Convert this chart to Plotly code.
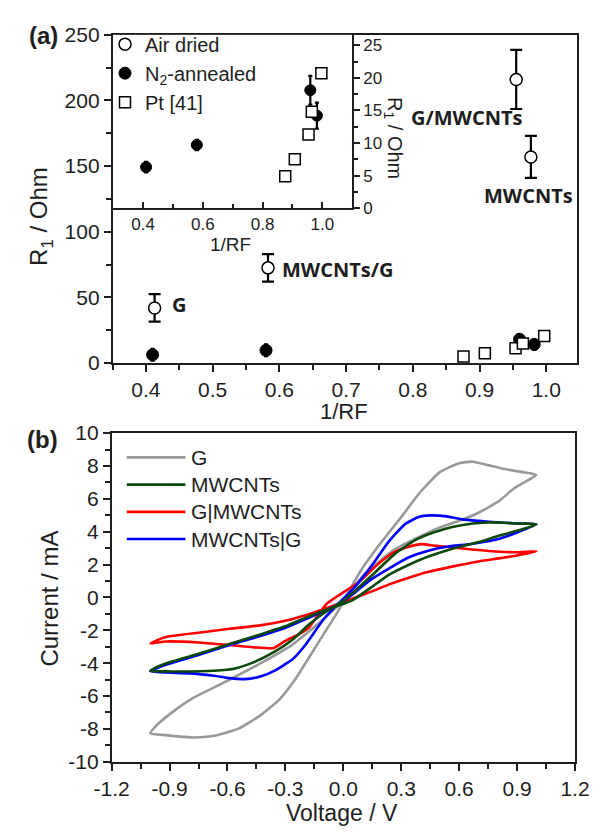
import plotly.graph_objects as go

W, H = 608, 835
def px(x): return x / W
def py(y): return 1 - y / H

# ---------------- Panel (a) data ----------------
air_x = [0.413, 0.583, 0.955, 0.977]
air_y = [42, 72.5, 216, 157]
air_err = [10.5, 10.5, 22.5, 16]
air_labels = ["G", "MWCNTs/G", "G/MWCNTs", "MWCNTs"]
air_label_x = [0.436, 0.601, 0.795, 0.904]
air_label_y = [44.5, 71, 187, 128]

n2_x = [0.41, 0.58, 0.96, 0.982]
n2_y = [6.3, 9.7, 18.1, 14.2]
n2_err_main = [4.5, 4.5, 4.0, 4.0]
n2_err_inset = [0.8, 0.8, 2.2, 2.0]

pt_x = [0.876, 0.908, 0.954, 0.965, 0.997]
pt_y = [4.9, 7.5, 11.3, 14.8, 20.7]

# ---------------- Panel (b) data ----------------
g_v = [-1.0, -0.92, -0.85, -0.77, -0.66, -0.54, -0.43, -0.33, -0.25, -0.18, -0.1, -0.03, 0.03, 0.1, 0.18,
       0.31, 0.4, 0.5, 0.6, 0.67, 0.75, 0.82, 0.9, 0.94, 1.0,
       0.93, 0.88, 0.81, 0.7, 0.6, 0.5, 0.39, 0.26, 0.1, 0.01, -0.1, -0.26, -0.43, -0.59, -0.69, -0.79,
       -0.885, -0.966, -1.0]
g_i = [-8.27, -8.38, -8.47, -8.52, -8.40, -7.97, -7.18, -6.2, -5.0, -3.7, -2.2, -0.9, 0.4, 1.8, 3.1,
       5.05, 6.43, 7.62, 8.17, 8.26, 8.05, 7.85, 7.68, 7.6, 7.45,
       6.95, 6.6, 5.9, 5.15, 4.66, 4.26, 3.67, 2.88, 1.3, -0.05, -1.3, -2.84, -4.02, -5.01, -5.6, -6.2,
       -6.98, -7.77, -8.27]

m_v = [-1.0, -0.92, -0.84, -0.67, -0.56, -0.46, -0.36, -0.26, -0.18, -0.1, 0.0, 0.07, 0.144, 0.27,
       0.37, 0.47, 0.57, 0.67, 0.75, 0.81, 0.9, 1.0,
       0.9, 0.81, 0.7, 0.57, 0.44, 0.34, 0.24, 0.144, 0.046, -0.1, -0.2, -0.3, -0.43, -0.59, -0.75,
       -0.92, -1.0]
m_i = [-4.46, -4.5, -4.51, -4.46, -4.32, -3.92, -3.33, -2.54, -1.66, -0.95, -0.2, 0.5, 1.3, 2.68,
       3.47, 3.96, 4.3, 4.5, 4.56, 4.56, 4.5, 4.45,
       4.05, 3.77, 3.37, 2.98, 2.49, 1.99, 1.4, 0.61, -0.18, -0.8, -1.26, -1.76, -2.25, -2.84, -3.43,
       -4.02, -4.46]

gm_v = [-1.0, -0.92, -0.75, -0.59, -0.46, -0.36, -0.3, -0.23, -0.18, -0.085, 0.078, 0.176, 0.258,
        0.339, 0.405, 0.47, 0.568, 0.666, 0.813, 0.9, 1.0,
        0.9, 0.813, 0.7, 0.568, 0.437, 0.339, 0.241, 0.144, 0.046, -0.1, -0.2, -0.3, -0.43, -0.59,
        -0.75, -0.92, -1.0]
gm_i = [-2.8, -2.68, -2.74, -2.9, -3.04, -3.08, -2.64, -2.25, -1.85, -0.37, 0.91, 1.99, 2.72,
        3.08, 3.24, 3.15, 3.04, 2.92, 2.78, 2.75, 2.8,
        2.55, 2.39, 2.19, 1.89, 1.54, 1.2, 0.81, 0.35, -0.08, -0.7, -1.1, -1.42, -1.7, -1.91,
        -2.15, -2.41, -2.8]

mg_v = [-1.0, -0.92, -0.79, -0.67, -0.59, -0.51, -0.43, -0.35, -0.26, -0.2, -0.1, -0.02, 0.05, 0.144,
        0.24, 0.32, 0.39, 0.45, 0.535, 0.617, 0.7, 0.81, 0.9, 1.0,
        0.9, 0.81, 0.67, 0.535, 0.44, 0.34, 0.24, 0.144, 0.062, -0.02, -0.2, -0.3, -0.43, -0.59,
        -0.75, -0.92, -1.0]
mg_i = [-4.5, -4.57, -4.62, -4.77, -4.91, -4.97, -4.81, -4.42, -3.73, -2.94, -1.3, -0.3, 0.5, 1.89,
        3.47, 4.46, 4.89, 4.99, 4.93, 4.75, 4.66, 4.56, 4.5, 4.45,
        3.95, 3.57, 3.27, 3.08, 2.84, 2.44, 1.79, 1.1, 0.31, -0.4, -1.35, -1.85, -2.35, -2.9,
        -3.5, -4.1, -4.5]

cv_names = ["G", "MWCNTs", "G|MWCNTs", "MWCNTs|G"]
cv_colors = ["#999999", "#0b4a0b", "#ff0000", "#0000ff"]
cv_data = [(g_v, g_i), (m_v, m_i), (gm_v, gm_i), (mg_v, mg_i)]
draw_order = [0, 2, 3, 1]

xb_ticks = [-1.2, -0.9, -0.6, -0.3, 0.0, 0.3, 0.6, 0.9, 1.2]
xb_text = ["-1.2", "-0.9", "-0.6", "-0.3", "0.0", "0.3", "0.6", "0.9", "1.2"]
yb_ticks = [-10, -8, -6, -4, -2, 0, 2, 4, 6, 8, 10]
yb_text = ["-10", "-8", "-6", "-4", "-2", "0", "2", "4", "6", "8", "10"]

TXT = "#1e1e1e"
FONT = "Liberation Sans"

fig = go.Figure()

# main panel (a)
fig.add_trace(go.Scatter(x=air_x, y=air_y, mode="markers", name="Air dried",
                         error_y=dict(type="data", array=air_err, color="black", thickness=2.2, width=6),
                         marker=dict(symbol="circle", size=12, color="white", line=dict(color="black", width=1.5)),
                         xaxis="x", yaxis="y", legendgroup="a1"))
fig.add_trace(go.Scatter(x=n2_x, y=n2_y, mode="markers", name="N<sub>2</sub>-annealed",
                         error_y=dict(type="data", array=n2_err_main, color="black", thickness=2.2, width=2),
                         marker=dict(symbol="circle", size=12, color="black", line=dict(color="black", width=1)),
                         xaxis="x", yaxis="y", legendgroup="a2"))
fig.add_trace(go.Scatter(x=pt_x, y=pt_y, mode="markers", name="Pt [41]",
                         marker=dict(symbol="square", size=11, color="white", line=dict(color="black", width=1.5)),
                         xaxis="x", yaxis="y", legendgroup="a3"))
# inset
fig.add_trace(go.Scatter(x=n2_x, y=n2_y, mode="markers", showlegend=False,
                         error_y=dict(type="data", array=n2_err_inset, color="black", thickness=2.2, width=2),
                         marker=dict(symbol="circle", size=11, color="black", line=dict(color="black", width=1)),
                         xaxis="x2", yaxis="y2"))
fig.add_trace(go.Scatter(x=pt_x, y=pt_y, mode="markers", showlegend=False,
                         marker=dict(symbol="square", size=11, color="white", line=dict(color="black", width=1.5)),
                         xaxis="x2", yaxis="y2"))

# panel (b)
for k in draw_order:
    v, i = cv_data[k]
    fig.add_trace(go.Scatter(x=v, y=i, mode="lines", showlegend=False, name=cv_names[k],
                             line=dict(color=cv_colors[k], width=2.6, shape="spline", smoothing=0.5),
                             xaxis="x3", yaxis="y3"))

axis_common = dict(showline=True, linecolor="#1e1e1e", linewidth=1.5, showgrid=False, zeroline=False,
                   tickcolor="#1e1e1e", tickwidth=1.5, tickfont=dict(family=FONT, size=21, color=TXT))
minor_out = dict(ticks="outside", ticklen=5, tickcolor="#1e1e1e", tickwidth=1.5)

fig.update_layout(
    width=W, height=H, margin=dict(l=0, r=0, t=0, b=0),
    paper_bgcolor="white", plot_bgcolor="white",
    xaxis=dict(axis_common, domain=[px(100), px(591)], anchor="y", range=[0.35, 1.046],
               dtick=0.1, tick0=0, tickformat=".1f", ticks="outside", ticklen=7, mirror=True,
               minor=dict(minor_out, dtick=0.05)),
    yaxis=dict(axis_common, domain=[py(361), py(23.5)], anchor="x", range=[0, 250],
               dtick=50, ticks="outside", ticklen=7, mirror=True,
               minor=dict(minor_out, dtick=25)),
    xaxis2=dict(axis_common, domain=[px(100.7), px(353.3)], anchor="y2", range=[0.3, 1.1],
                dtick=0.2, tick0=0, tickformat=".1f", ticks="inside", ticklen=6,
                tickfont=dict(family=FONT, size=17, color=TXT),
                minor=dict(dtick=0.1, ticks="inside", ticklen=4, tickcolor="#1e1e1e", tickwidth=1.5)),
    yaxis2=dict(axis_common, domain=[py(201.7), py(23.5)], anchor="x2", side="right", range=[0, 26.6],
                dtick=5, ticks="outside", ticklen=6,
                tickfont=dict(family=FONT, size=17, color=TXT),
                minor=dict(minor_out, dtick=2.5, ticklen=4)),
    xaxis3=dict(axis_common, domain=[px(99), px(589)], anchor="y3", range=[-1.2, 1.2],
                tickvals=xb_ticks, ticktext=xb_text, ticks="outside", ticklen=7, mirror=True,
                tickfont=dict(family=FONT, size=21, color=TXT),
                minor=dict(minor_out, dtick=0.15, tick0=0)),
    yaxis3=dict(axis_common, domain=[py(771), py(433)], anchor="x3", range=[-10, 10],
                tickvals=yb_ticks, ticktext=yb_text, ticks="outside", ticklen=7, mirror=True,
                tickfont=dict(family=FONT, size=21, color=TXT),
                minor=dict(minor_out, dtick=1)),
    legend=dict(x=px(92), y=py(13), xanchor="left", yanchor="top", bgcolor="rgba(0,0,0,0)",
                font=dict(family=FONT, size=20, color=TXT), tracegroupgap=0, itemsizing="trace"),
    showlegend=True,
)

ann = []
def add_text(text, x, y, size, bold=False, angle=0, xanchor="center", xref="paper", yref="paper", family=FONT):
    t = "<b>%s</b>" % text if bold else text
    ann.append(dict(text=t, x=x, y=y, xref=xref, yref=yref, showarrow=False, textangle=angle,
                    xanchor=xanchor, yanchor="middle", font=dict(family=family, size=size, color=TXT)))

add_text("(a)", px(27), py(24), 24, bold=True)
add_text("(b)", px(26), py(440), 24, bold=True)
add_text("R<sub>1</sub> / Ohm", px(24), py(210), 24, angle=-90)
add_text("1/RF", px(345), py(411), 22)
add_text("R<sub>1</sub> / Ohm", px(397), py(130), 20, angle=90)
add_text("1/RF", px(225), py(239), 19)
add_text("Current / mA", px(33), py(603), 24, angle=-90)
add_text("Voltage / V", px(343), py(824), 23)
for lab, lx, ly in zip(air_labels, air_label_x, air_label_y):
    add_text(lab, lx, ly, 20, bold=True, xanchor="left", xref="x", yref="y", family="Open Sans")

# manual legend for panel (b)
leg_y = [458, 486, 514, 542]
shapes = []
for k, yy in enumerate(leg_y):
    shapes.append(dict(type="line", xref="paper", yref="paper", x0=px(115), x1=px(177), y0=py(yy), y1=py(yy),
                       line=dict(color=cv_colors[k], width=2.6)))
    add_text(cv_names[k], px(181), py(yy), 21, xanchor="left")

fig.update_layout(annotations=ann, shapes=shapes)
fig.write_html("out.html")
